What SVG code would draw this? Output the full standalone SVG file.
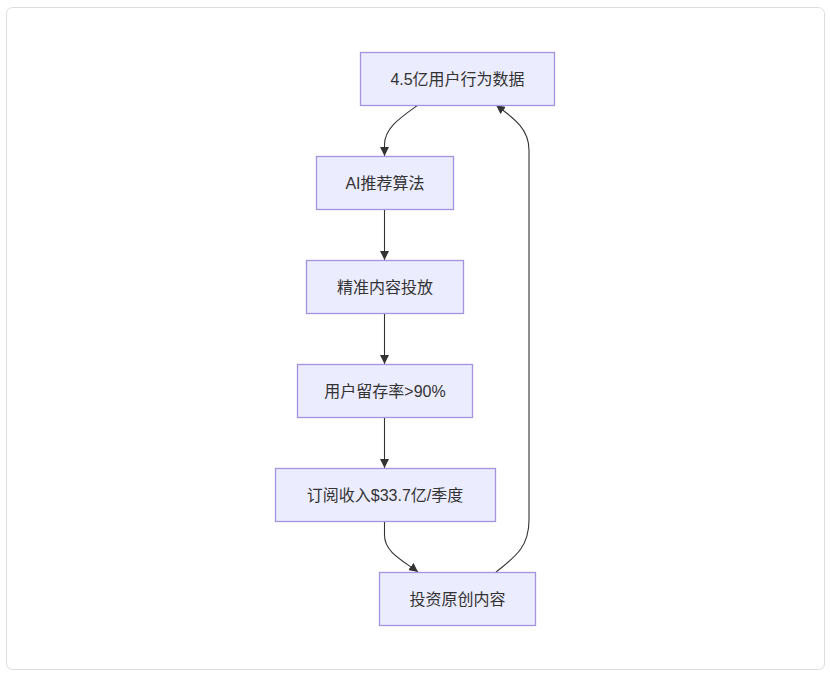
<svg xmlns="http://www.w3.org/2000/svg" width="830" height="676" viewBox="0 0 830 676">
<style>
.node rect{fill:#ECECFF;stroke:#A593E0;stroke-width:1.3}
.node text{font-family:"Liberation Sans","Noto Sans CJK SC",sans-serif;font-size:16px;fill:#333;text-anchor:middle;dominant-baseline:central}
.edge{fill:none;stroke:#333;stroke-width:1.1}
</style>
<defs>
<marker id="arrow" viewBox="0 0 10 10" refX="10" refY="5" markerWidth="9" markerHeight="9" markerUnits="userSpaceOnUse" orient="auto">
<path d="M0,0 L10,5 L0,10 z" fill="#333"/>
</marker>
</defs>
<rect x="6.5" y="7.5" width="818" height="662" rx="6" fill="#fff" stroke="#ddd" stroke-width="1"/>
<g id="connectors">
<path class="edge" d="M418,105 C400,118 384.5,128 384.5,145 L384.5,156" marker-end="url(#arrow)"/>
<path class="edge" d="M384.5,210 L384.5,260" marker-end="url(#arrow)"/>
<path class="edge" d="M384.5,314 L384.5,364" marker-end="url(#arrow)"/>
<path class="edge" d="M384.5,418 L384.5,468" marker-end="url(#arrow)"/>
<path class="edge" d="M384.5,522 L384.5,535 C384.5,552 402,560 418,572" marker-end="url(#arrow)"/>
<path class="edge" d="M496,572 C518,555 529,545 529,520 L529,150 C529,128 512,117 496,105" marker-end="url(#arrow)"/>
</g>
<g id="n1" class="node"><rect x="360.5" y="52.5" width="194" height="53"/><text x="457.5" y="79">4.5亿用户行为数据</text></g>
<g id="n2" class="node"><rect x="316.5" y="156.5" width="137" height="53"/><text x="385" y="183">AI推荐算法</text></g>
<g id="n3" class="node"><rect x="306.5" y="260.5" width="157" height="53"/><text x="385" y="287">精准内容投放</text></g>
<g id="n4" class="node"><rect x="297.5" y="364.5" width="175" height="53"/><text x="385" y="391">用户留存率&gt;90%</text></g>
<g id="n5" class="node"><rect x="275.5" y="468.5" width="220" height="53"/><text x="385" y="495">订阅收入$33.7亿/季度</text></g>
<g id="n6" class="node"><rect x="379.5" y="572.5" width="156" height="53"/><text x="457.5" y="599">投资原创内容</text></g>
</svg>
